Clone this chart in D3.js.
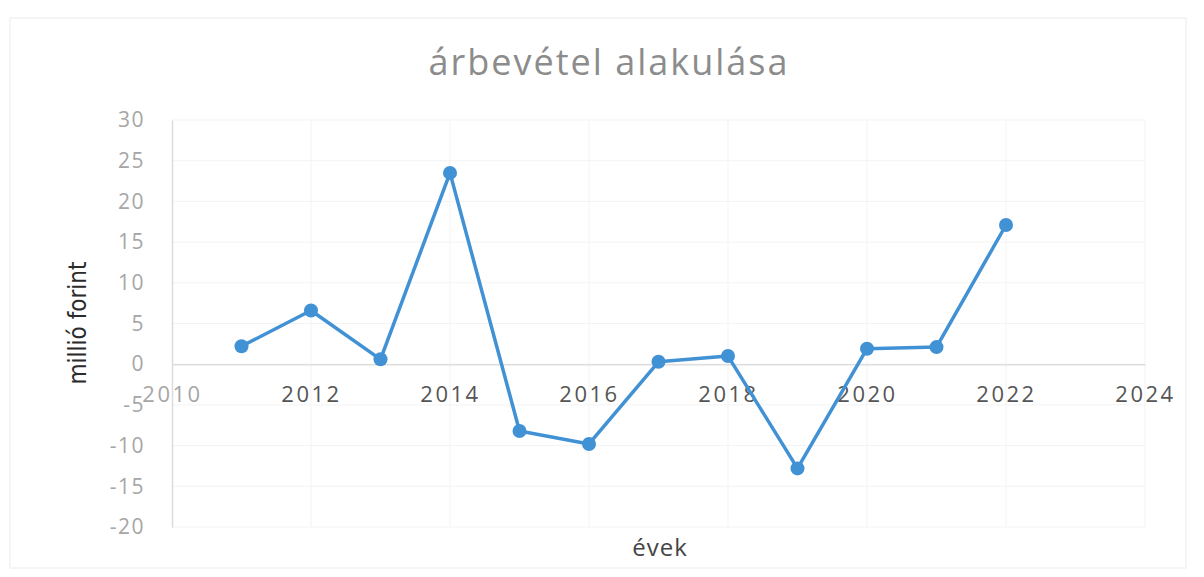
<!DOCTYPE html>
<html>
<head>
<meta charset="utf-8">
<script src="https://cdn.jsdelivr.net/npm/d3@7"></script>
<style>
  body { margin: 0; background: #fff; }
</style>
</head>
<body>
<div id="chart"></div>
<script>
// data
var years = [2011, 2012, 2013, 2014, 2015, 2016, 2017, 2018, 2019, 2020, 2021, 2022];
var revenue = [2.2, 6.6, 0.6, 23.5, -8.2, -9.8, 0.3, 1.0, -12.8, 1.9, 2.1, 17.1];
var xTicks = [2010, 2012, 2014, 2016, 2018, 2020, 2022, 2024];
var yTicks = [-20, -15, -10, -5, 0, 5, 10, 15, 20, 25, 30];

var W = 1204, H = 577;
var margin = {top: 120, right: 59, bottom: 50, left: 172},
    width = W - margin.left - margin.right,
    height = 527 - margin.top;

var svg = d3.select("#chart")
  .append("svg")
    .attr("width", W)
    .attr("height", H);

// faint chart frame
svg.append("rect")
  .attr("x", 10).attr("y", 18)
  .attr("width", 1176).attr("height", 550)
  .attr("fill", "none")
  .attr("stroke", "#ececec")
  .attr("stroke-width", 1);

var g = svg.append("g")
  .attr("transform", "translate(" + margin.left + "," + margin.top + ")");

var x = d3.scaleLinear()
  .domain([2010, 2024])
  .range([0, width]);

var y = d3.scaleLinear()
  .domain([-20, 30])
  .range([height, 0]);

// gridlines
g.selectAll(".hgrid")
  .data(yTicks)
  .enter()
  .append("line")
    .attr("x1", 0).attr("x2", width)
    .attr("y1", function(d) { return y(d) })
    .attr("y2", function(d) { return y(d) })
    .attr("stroke", "#f3f3f3")
    .attr("stroke-width", 1);

g.selectAll(".vgrid")
  .data(xTicks.slice(1))
  .enter()
  .append("line")
    .attr("x1", function(d) { return x(d) })
    .attr("x2", function(d) { return x(d) })
    .attr("y1", 0).attr("y2", height)
    .attr("stroke", "#f3f3f3")
    .attr("stroke-width", 1);

// Y axis (plain hyphen for minus, like the original)
var yAxis = g.append("g")
  .call(d3.axisLeft(y).tickValues(yTicks).tickSize(0).tickPadding(27)
    .tickFormat(function(d) { return String(d) }));
yAxis.select(".domain").attr("stroke", "#dcdcdc").attr("stroke-width", 1.5);
yAxis.selectAll("text")
  .attr("fill", "#a6a6a6")
  .style("font-family", "'Open Sans', sans-serif")
  .style("font-size", "21px")
  .style("letter-spacing", "1.5px");

// X axis crossing at 0
var xAxis = g.append("g")
  .attr("transform", "translate(0," + y(0) + ")")
  .call(d3.axisBottom(x).tickValues(xTicks).tickFormat(d3.format("d")).tickSize(0).tickPadding(22));
xAxis.select(".domain").attr("stroke", "#dedede").attr("stroke-width", 1.5);
xAxis.selectAll("text")
  .attr("fill", function(d) { return d === 2010 ? "#a6a6a6" : "#555555" })
  .style("font-family", "'Open Sans', sans-serif")
  .style("font-size", "22px")
  .style("letter-spacing", "2.5px");

// the line
var color = "#4191d5";
g.append("path")
  .datum(years)
  .attr("fill", "none")
  .attr("stroke", color)
  .attr("stroke-width", 3.5)
  .attr("stroke-linejoin", "round")
  .attr("d", d3.line()
    .x(function(d) { return x(d) })
    .y(function(d, i) { return y(revenue[i]) })
  );

// markers
g.selectAll(".dot")
  .data(years)
  .enter()
  .append("circle")
    .attr("cx", function(d) { return x(d) })
    .attr("cy", function(d, i) { return y(revenue[i]) })
    .attr("r", 7)
    .attr("fill", color);

// title
svg.append("text")
  .attr("x", 609)
  .attr("y", 75)
  .attr("text-anchor", "middle")
  .attr("fill", "#8c8c8c")
  .style("font-family", "'Open Sans', sans-serif")
  .style("font-size", "36px")
  .style("letter-spacing", "2px")
  .text("árbevétel alakulása");

// axis titles
svg.append("text")
  .attr("transform", "translate(86,323) rotate(-90)")
  .attr("text-anchor", "middle")
  .attr("fill", "#2b2b2b")
  .style("font-family", "'Liberation Sans Narrow', 'DejaVu Sans Condensed', sans-serif")
  .style("font-size", "24px")
  .text("millió forint");

svg.append("text")
  .attr("x", 660)
  .attr("y", 556)
  .attr("text-anchor", "middle")
  .attr("fill", "#444444")
  .style("font-family", "'Open Sans', sans-serif")
  .style("font-size", "24px")
  .style("letter-spacing", "1px")
  .text("évek");
</script>
</body>
</html>
